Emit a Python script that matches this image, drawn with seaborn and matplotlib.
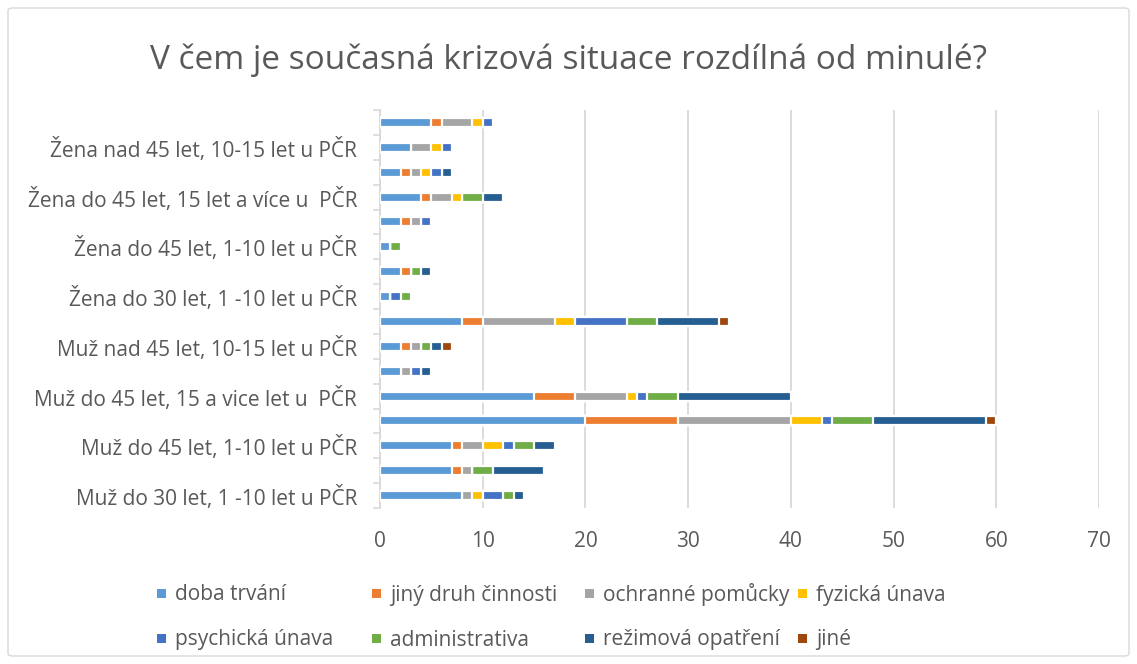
import matplotlib
matplotlib.use("Agg")
import matplotlib.pyplot as plt
import seaborn as sns
import pandas as pd
import numpy as np
from matplotlib.patches import FancyBboxPatch, Rectangle

sns.set_theme(style="white")
plt.rcParams['font.family'] = ['Open Sans', 'DejaVu Sans']

title = "V čem je současná krizová situace rozdílná od minulé?"

series = ["doba trvání", "jiný druh činnosti", "ochranné pomůcky", "fyzická únava",
          "psychická únava", "administrativa", "režimová opatření", "jiné"]
colors = ["#5B9BD5", "#ED7D31", "#A5A5A5", "#FFC000", "#4472C4", "#70AD47", "#255E91", "#9E480E"]

# 16 groups, listed top to bottom; only every other one carries a visible label
group_labels = ["", "Žena nad 45 let, 10-15 let u PČR",
                "", "Žena do 45 let, 15 let a více u  PČR",
                "", "Žena do 45 let, 1-10 let u PČR",
                "", "Žena do 30 let, 1 -10 let u PČR",
                "", "Muž nad 45 let, 10-15 let u PČR",
                "", "Muž do 45 let, 15 a vice let u  PČR",
                "", "Muž do 45 let, 1-10 let u PČR",
                "", "Muž do 30 let, 1 -10 let u PČR"]

doba_trvani        = [5, 3, 2, 4, 2, 1, 2, 1, 8, 2, 2, 15, 20, 7, 7, 8]
jiny_druh          = [1, 0, 1, 1, 1, 0, 1, 0, 2, 1, 0, 4, 9, 1, 1, 0]
ochranne_pomucky   = [3, 2, 1, 2, 1, 0, 0, 0, 7, 1, 1, 5, 11, 2, 1, 1]
fyzicka_unava      = [1, 1, 1, 1, 0, 0, 0, 0, 2, 0, 0, 1, 3, 2, 0, 1]
psychicka_unava    = [1, 1, 1, 0, 1, 0, 0, 1, 5, 0, 1, 1, 1, 1, 0, 2]
administrativa     = [0, 0, 0, 2, 0, 1, 1, 1, 3, 1, 0, 3, 4, 2, 2, 1]
rezimova_opatreni  = [0, 0, 1, 2, 0, 0, 1, 0, 6, 1, 1, 11, 11, 2, 5, 1]
jine               = [0, 0, 0, 0, 0, 0, 0, 0, 1, 1, 0, 0, 1, 0, 0, 0]

values = [doba_trvani, jiny_druh, ochranne_pomucky, fyzicka_unava,
          psychicka_unava, administrativa, rezimova_opatreni, jine]

x_ticks = [0, 10, 20, 30, 40, 50, 60, 70]

W, H = 1137, 664
TXT = "#595959"
GRID = "#d9d9d9"

n = len(group_labels)
df = pd.DataFrame({s: v for s, v in zip(series, values)})
df["pos"] = list(range(n))
cum = df[series].cumsum(axis=1)

fig = plt.figure(figsize=(W / 100, H / 100), dpi=100)
ax = fig.add_axes([380 / W, (H - 508) / H, 719 / W, 398 / H])

# cumulative bars drawn from longest to shortest so every series shows on top
for i in range(len(series) - 1, -1, -1):
    d = pd.DataFrame({"pos": df["pos"], "val": cum[series[i]]})
    sns.barplot(data=d, x="val", y="pos", orient="y", color=colors[i],
                width=0.36, edgecolor="white", linewidth=1.6, ax=ax,
                saturation=1, order=list(range(n)), zorder=3)

ax.set_xlim(0, 70)
ax.set_ylim(n - 0.5, -0.5)
ax.set_xticks(x_ticks)
ax.set_xticklabels([str(t) for t in x_ticks], fontsize=15, color=TXT)
ax.tick_params(axis="x", length=0, pad=16.5)
ax.xaxis.grid(True, color=GRID, linewidth=1.3, zorder=0)
ax.yaxis.grid(False)

lab_pos = [i for i, l in enumerate(group_labels) if l]
ax.set_yticks(lab_pos)
ax.set_yticklabels([group_labels[i] for i in lab_pos], fontsize=15, color=TXT)
ax.tick_params(axis="y", length=0, pad=16.5)
ax.set_yticks(np.arange(-0.5, n, 1.0), minor=True)
ax.tick_params(axis="y", which="minor", length=5, color=GRID, width=1.2, left=True)
ax.set_xlabel("")
ax.set_ylabel("")

for s in ["top", "right", "bottom"]:
    ax.spines[s].set_visible(False)
ax.spines["left"].set_color(GRID)
ax.spines["left"].set_linewidth(1.3)

fig.text(0.5, 1 - 60 / H, title, ha="center", va="center", fontsize=24, color=TXT)

# legend: 4 equal-width columns, 2 rows (row-major order, as in the reference)
col_x = [157, 372, 585, 798]
row_y = [593, 638]
for k, (name, c) in enumerate(zip(series, colors)):
    r, col = divmod(k, 4)
    x0, y0 = col_x[col], row_y[r]
    fig.add_artist(Rectangle((x0 / W, (H - y0 - 4.5) / H), 9 / W, 9 / H,
                             transform=fig.transFigure, facecolor=c, edgecolor="none"))
    fig.text((x0 + 18) / W, (H - y0 - 7.5) / H, name, ha="left", va="baseline",
             fontsize=15, color=TXT)

border = FancyBboxPatch((8 / W, 8 / H), 1121 / W, 648 / H,
                        boxstyle="round,pad=0,rounding_size=0.004",
                        transform=fig.transFigure, facecolor="none",
                        edgecolor=GRID, linewidth=1.0)
fig.patches.append(border)

fig.savefig("out.png", dpi=100)
